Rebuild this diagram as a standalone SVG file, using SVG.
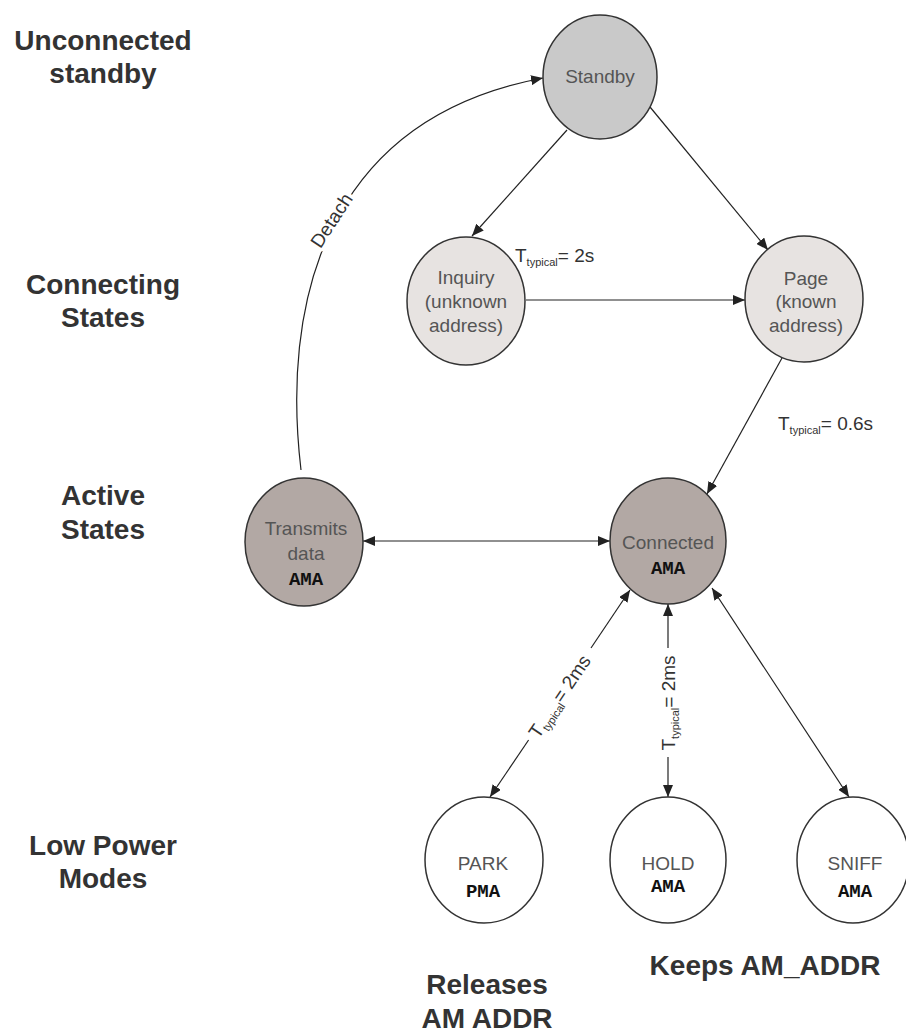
<svg xmlns="http://www.w3.org/2000/svg" width="906" height="1032" viewBox="0 0 906 1032">
<style>
.side{font-family:"Liberation Sans",Arial,sans-serif;font-size:28px;font-weight:bold;fill:#333;text-anchor:middle}
.lbl{font-family:"Liberation Sans",Arial,sans-serif;font-size:19px;fill:#555;text-anchor:middle}
.mono{font-family:"Liberation Mono","Courier New",monospace;font-size:19px;font-weight:bold;fill:#111;text-anchor:middle}
.edge{fill:none;stroke:#222;stroke-width:1.2}
.et{font-family:"Liberation Sans",Arial,sans-serif;font-size:19px;fill:#333}
.sub{font-size:11px}
.halo{paint-order:stroke;stroke:#fff;stroke-width:7px;stroke-linejoin:round}
.n{stroke:#333;stroke-width:1.5}
</style>
<defs>
<marker id="ah" viewBox="0 0 12 10" refX="12" refY="5" markerWidth="12" markerHeight="10" markerUnits="userSpaceOnUse" orient="auto-start-reverse">
<path d="M0,0 L12,5 L0,10 z" fill="#222"/>
</marker>
</defs>
<rect width="906" height="1032" fill="#fff"/>

<g id="side-labels">
<text class="side" x="103" y="50">Unconnected</text>
<text class="side" x="103" y="83">standby</text>
<text class="side" x="103" y="294">Connecting</text>
<text class="side" x="103" y="327">States</text>
<text class="side" x="103" y="505">Active</text>
<text class="side" x="103" y="539">States</text>
<text class="side" x="103" y="855">Low Power</text>
<text class="side" x="103" y="888">Modes</text>
<text class="side" x="487" y="994">Releases</text>
<text class="side" x="487" y="1028">AM ADDR</text>
<text class="side" x="765" y="975">Keeps AM_ADDR</text>
</g>

<g id="connectors">
<path class="edge" d="M567,130 L472,236" marker-end="url(#ah)"/>
<path class="edge" d="M650,107 L768,250" marker-end="url(#ah)"/>
<path class="edge" d="M526,300 L745,300" marker-end="url(#ah)"/>
<path class="edge" d="M782,358 L707,494" marker-end="url(#ah)"/>
<path class="edge" d="M363,541 L610,541" marker-start="url(#ah)" marker-end="url(#ah)"/>
<path class="edge" d="M301,470 C282,310 320,120 543,78" marker-end="url(#ah)"/>
<path class="edge" d="M630,590 L591,648" marker-start="url(#ah)"/>
<path class="edge" d="M528.6,740 L490,797" marker-end="url(#ah)"/>
<path class="edge" d="M668,604 L668,648" marker-start="url(#ah)"/>
<path class="edge" d="M668,757 L668,797" marker-end="url(#ah)"/>
<path class="edge" d="M712,588 L849,797" marker-start="url(#ah)" marker-end="url(#ah)"/>
<text class="et halo" x="0" y="0" text-anchor="middle" transform="translate(337,224) rotate(-57)">Detach</text>
<text class="et" x="515" y="262">T<tspan class="sub" dy="4">typical</tspan><tspan dy="-4">= 2s</tspan></text>
<text class="et" x="778" y="430">T<tspan class="sub" dy="4">typical</tspan><tspan dy="-4">= 0.6s</tspan></text>
<text class="et" x="0" y="0" text-anchor="middle" transform="translate(565,700) rotate(-56)">T<tspan class="sub" dy="4">typical</tspan><tspan dy="-4">= 2ms</tspan></text>
<text class="et" x="0" y="0" text-anchor="middle" transform="translate(675,703) rotate(-90)">T<tspan class="sub" dy="4">typical</tspan><tspan dy="-4">= 2ms</tspan></text>
</g>

<g id="standby">
<ellipse class="n" cx="600" cy="77" rx="57" ry="62" fill="#c9c9c9"/>
<text class="lbl" x="600" y="83">Standby</text>
</g>
<g id="inquiry">
<ellipse class="n" cx="466" cy="301" rx="59" ry="64" fill="#e7e3e1"/>
<text class="lbl" x="466" y="284">Inquiry</text>
<text class="lbl" x="466" y="308">(unknown</text>
<text class="lbl" x="466" y="332">address)</text>
</g>
<g id="page">
<ellipse class="n" cx="804" cy="299" rx="59" ry="63" fill="#e7e3e1"/>
<text class="lbl" x="806" y="285">Page</text>
<text class="lbl" x="806" y="308">(known</text>
<text class="lbl" x="806" y="332">address)</text>
</g>
<g id="transmits">
<ellipse class="n" cx="304" cy="542" rx="59" ry="64" fill="#b2a8a4"/>
<text class="lbl" x="306" y="535">Transmits</text>
<text class="lbl" x="306" y="560">data</text>
<text class="mono" x="306" y="585">AMA</text>
</g>
<g id="connected">
<ellipse class="n" cx="668" cy="541" rx="58" ry="63" fill="#b2a8a4"/>
<text class="lbl" x="668" y="549">Connected</text>
<text class="mono" x="668" y="574">AMA</text>
</g>
<g id="park">
<ellipse class="n" cx="484" cy="860" rx="59" ry="63" fill="#fff"/>
<text class="lbl" x="483" y="870">PARK</text>
<text class="mono" x="483" y="897">PMA</text>
</g>
<g id="hold">
<ellipse class="n" cx="668" cy="860" rx="58" ry="63" fill="#fff"/>
<text class="lbl" x="668" y="870">HOLD</text>
<text class="mono" x="668" y="892">AMA</text>
</g>
<g id="sniff">
<ellipse class="n" cx="853" cy="860" rx="56" ry="63" fill="#fff"/>
<text class="lbl" x="855" y="870">SNIFF</text>
<text class="mono" x="855" y="897">AMA</text>
</g>
</svg>
